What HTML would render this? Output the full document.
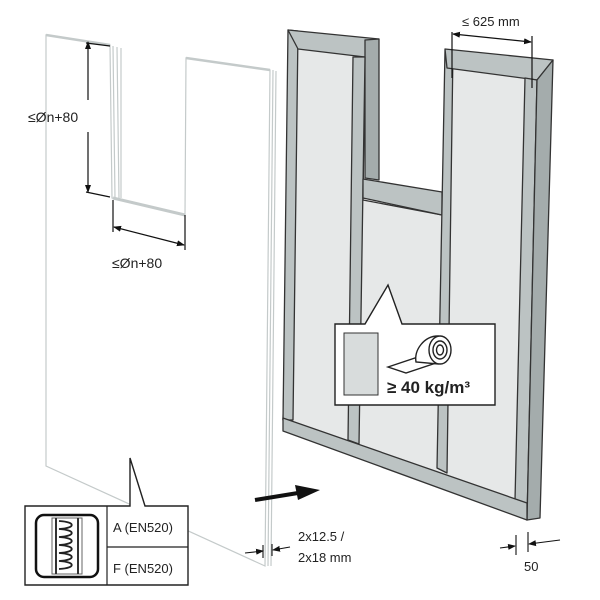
<!DOCTYPE html>
<html><head><style>body{margin:0;background:#fff}svg{display:block}text{font-family:"Liberation Sans",sans-serif;fill:#222}</style></head>
<body>
<svg width="600" height="600" viewBox="0 0 600 600" xmlns="http://www.w3.org/2000/svg">
<defs><marker id="ah" markerWidth="8" markerHeight="8" refX="7" refY="4" orient="auto-start-reverse" markerUnits="userSpaceOnUse"><path d="M0,1 L8,4 L0,7 z" fill="#111"/></marker></defs>
<!-- left gypsum panel -->
<g fill="none" stroke="#c4caca" stroke-width="1.2">
<path d="M46,35 L110,45 L112,198 L185,215 L186,58 L270,70 L265,566 L46,466 Z" fill="#fff"/>
<path d="M113,46 L115,198 M117,47 L119,199 M121,48 L121,198"/>
<path d="M273,70 L268,566 M276,71 L271,566"/>
<path d="M113,198 L185,215" stroke-width="3"/>
<path d="M46,35 L110,45" stroke-width="2.5"/>
<path d="M186,58 L270,70" stroke-width="2.5"/>
</g>
<!-- dims left -->
<g stroke="#111" stroke-width="1.2" fill="none">
<line x1="88" y1="42" x2="88" y2="100" marker-start="url(#ah)"/>
<line x1="88" y1="132" x2="88" y2="192" marker-end="url(#ah)"/>
<line x1="86" y1="43" x2="110" y2="46"/>
<line x1="86" y1="192" x2="110" y2="197"/>
<line x1="113" y1="200" x2="113" y2="232"/>
<line x1="185" y1="215" x2="185" y2="250"/>
<line x1="114" y1="227" x2="184" y2="245" marker-start="url(#ah)" marker-end="url(#ah)"/>
</g>
<text x="28" y="122" font-size="14">≤Øn+80</text>
<text x="112" y="268" font-size="14">≤Øn+80</text>
<!-- frame -->
<g stroke="#333" stroke-width="1.3" stroke-linejoin="round">
<!-- panel fills -->
<path d="M292,45 L365,57 L363,200 L442,215 L447,66 L537,80 L527,505 L283,420 Z" fill="#e6e8e8"/>
<!-- left outer stud -->
<path d="M288,30 L298,31 L293,420 L283,420 Z" fill="#bcc3c3"/>
<!-- left top track -->
<path d="M288,30 L379,39 L365,57 L298,49 Z" fill="#bcc3c3"/>
<path d="M365,40 L379,39 L379,180 L365,178 Z" fill="#a4acac"/>
<!-- middle stud -->
<path d="M353,57 L365,57 L359,444 L348,440 Z" fill="#bcc3c3"/>
<!-- transom -->
<path d="M363,179 L442,192 L442,215 L363,198 Z" fill="#bcc3c3"/>
<!-- right middle stud -->
<path d="M445,50 L453,50 L447,473 L437,468 Z" fill="#bcc3c3"/>
<!-- right top track -->
<path d="M445,49 L553,60 L537,80 L447,68 Z" fill="#bcc3c3"/>
<!-- right stud -->
<path d="M525,78 L537,80 L527,520 L515,500 Z" fill="#bcc3c3"/>
<path d="M537,80 L553,60 L540,518 L527,520 Z" fill="#a4acac"/>
<!-- bottom track -->
<path d="M283,418 L527,503 L527,520 L283,431 Z" fill="#bcc3c3"/>
</g>
<!-- 625 dim -->
<g stroke="#111" stroke-width="1.2">
<line x1="452" y1="32" x2="452" y2="78"/><line x1="532" y1="36" x2="532" y2="88"/>
<line x1="453" y1="34" x2="531" y2="42" marker-start="url(#ah)" marker-end="url(#ah)"/>
</g>
<text x="462" y="26" font-size="13">≤ 625 mm</text>
<!-- callout -->
<path d="M335,324 L365,324 L388,285 L402,324 L495,324 L495,405 L335,405 Z" fill="#fff" stroke="#222" stroke-width="1.4"/>
<rect x="344" y="333" width="34" height="62" fill="#d8dcdc" stroke="#333" stroke-width="1"/>
<g stroke="#222" stroke-width="1.4" fill="#fff">
<path d="M388,367 L424,355 L442,361 L406,373 Z"/>
<path d="M438,336 C424,336 414,350 416,362 L438,364 Z"/>
<ellipse cx="440" cy="350" rx="11" ry="14"/><ellipse cx="440" cy="350" rx="7" ry="9"/><ellipse cx="440" cy="350" rx="3.5" ry="5"/>
</g>
<text x="387" y="393" font-size="17" font-weight="bold">≥ 40 kg/m³</text>
<!-- arrow -->
<path d="M255,500 L298,493" stroke="#111" stroke-width="4"/>
<path d="M295,485 L320,490 L298,500 Z" fill="#111"/>
<!-- thickness dim -->
<g stroke="#111" stroke-width="1.1">
<line x1="245" y1="553" x2="263" y2="551" marker-end="url(#ah)"/><line x1="290" y1="547" x2="273" y2="550" marker-end="url(#ah)"/>
<line x1="263" y1="545" x2="263" y2="558"/><line x1="272" y1="544" x2="272" y2="556"/>
<line x1="516" y1="535" x2="516" y2="555"/><line x1="528" y1="532" x2="528" y2="552"/>
<line x1="500" y1="548" x2="515" y2="546" marker-end="url(#ah)"/><line x1="560" y1="540" x2="529" y2="544" marker-end="url(#ah)"/>
</g>
<text x="298" y="541" font-size="13">2x12.5 /</text>
<text x="298" y="562" font-size="13">2x18 mm</text>
<text x="524" y="571" font-size="13">50</text>
<!-- bottom-left box -->
<path d="M25,506 L130,506 L130,458 L145,506 L188,506 L188,585 L25,585 Z" fill="#fff" stroke="#222" stroke-width="1.4"/>
<line x1="107" y1="506" x2="107" y2="585" stroke="#222" stroke-width="1.2"/>
<line x1="107" y1="547" x2="188" y2="547" stroke="#222" stroke-width="1.2"/>
<rect x="36" y="515" width="62" height="62" rx="8" fill="#fff" stroke="#111" stroke-width="2.5"/>
<rect x="52" y="518" width="30" height="56" fill="#fff" stroke="#666" stroke-width="1"/>
<line x1="56" y1="518" x2="56" y2="574" stroke="#333" stroke-width="2"/><line x1="78" y1="518" x2="78" y2="574" stroke="#333" stroke-width="2"/>
<path d="M59,521 C76,522 76,528 59,529 C76,530 76,536 59,537 C76,538 76,544 59,545 C76,546 76,552 59,553 C76,554 76,560 59,561 C76,562 76,568 59,569" fill="none" stroke="#222" stroke-width="1.8"/>
<text x="113" y="532" font-size="13">A (EN520)</text>
<text x="113" y="573" font-size="13">F (EN520)</text>
</svg>
</body></html>
